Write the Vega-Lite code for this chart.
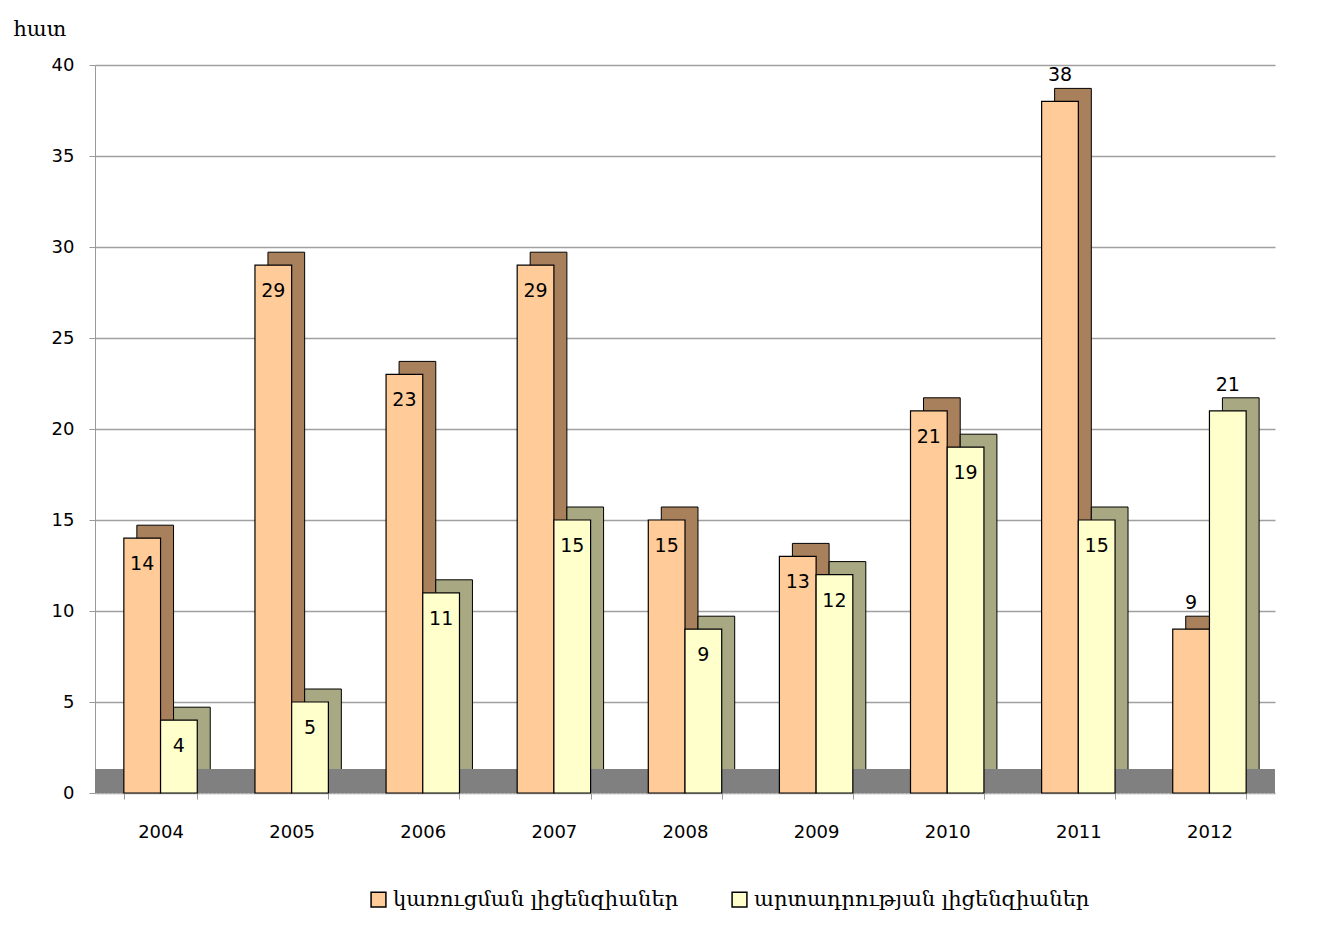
{
  "$schema": "https://vega.github.io/schema/vega-lite/v6.json",
  "autosize": {"type": "none"},
  "width": 1180,
  "height": 728,
  "padding": {"left": 95, "top": 65, "right": 55, "bottom": 143},
  "background": "white",
  "config": {
    "view": {"stroke": null},
    "axis": {"labelFont": "DejaVu Sans", "labelFontSize": 18, "labelColor": "black"}
  },
  "data": {
    "values": [
      {"year": "2004", "series": "կառուցման լիցենզիաներ", "v": 14},
      {"year": "2005", "series": "կառուցման լիցենզիաներ", "v": 29},
      {"year": "2006", "series": "կառուցման լիցենզիաներ", "v": 23},
      {"year": "2007", "series": "կառուցման լիցենզիաներ", "v": 29},
      {"year": "2008", "series": "կառուցման լիցենզիաներ", "v": 15},
      {"year": "2009", "series": "կառուցման լիցենզիաներ", "v": 13},
      {"year": "2010", "series": "կառուցման լիցենզիաներ", "v": 21},
      {"year": "2011", "series": "կառուցման լիցենզիաներ", "v": 38},
      {"year": "2012", "series": "կառուցման լիցենզիաներ", "v": 9},
      {"year": "2004", "series": "արտադրության լիցենզիաներ", "v": 4},
      {"year": "2005", "series": "արտադրության լիցենզիաներ", "v": 5},
      {"year": "2006", "series": "արտադրության լիցենզիաներ", "v": 11},
      {"year": "2007", "series": "արտադրության լիցենզիաներ", "v": 15},
      {"year": "2008", "series": "արտադրության լիցենզիաներ", "v": 9},
      {"year": "2009", "series": "արտադրության լիցենզիաներ", "v": 12},
      {"year": "2010", "series": "արտադրության լիցենզիաներ", "v": 19},
      {"year": "2011", "series": "արտադրության լիցենզիաներ", "v": 15},
      {"year": "2012", "series": "արտադրության լիցենզիաներ", "v": 21}
    ]
  },
  "encoding": {
    "x": {
      "field": "year", "type": "nominal",
      "scale": {"paddingInner": 0.44, "paddingOuter": 0.22},
      "axis": {
        "title": null, "labelAngle": 0, "tickBand": "extent",
        "labelPadding": 24, "tickSize": 6, "tickColor": "#999",
        "domainColor": "#bbb", "domainDash": [2, 2]
      }
    },
    "y": {
      "field": "v", "type": "quantitative",
      "scale": {"domain": [0, 40], "nice": false},
      "axis": {
        "values": [0, 5, 10, 15, 20, 25, 30, 35, 40],
        "title": "հատ", "titleAngle": 0, "titleFont": "DejaVu Serif",
        "titleFontSize": 21, "titleFontWeight": "normal", "titleAlign": "left",
        "titleBaseline": "middle", "titleX": -82, "titleY": -36,
        "grid": true, "gridColor": "#a0a0a0", "gridWidth": 1.5,
        "domainColor": "#999", "tickColor": "#999", "tickSize": 6,
        "labelPadding": 15
      }
    }
  },
  "resolve": {"scale": {"xOffset": "independent"}},
  "layer": [
    {
      "transform": [{"filter": "datum.series == 'կառուցման լիցենզիաներ'"}],
      "mark": {"type": "bar", "yOffset": -13, "stroke": "black", "strokeWidth": 1, "fill": "#A8805C"},
      "encoding": {
        "xOffset": {
          "field": "series", "type": "nominal",
          "scale": {"domain": ["կառուցման լիցենզիաներ", "արտադրության լիցենզիաներ"], "paddingInner": 0, "range": [13, 86.4]}
        }
      }
    },
    {
      "transform": [{"filter": "datum.series == 'արտադրության լիցենզիաներ'"}],
      "mark": {"type": "bar", "yOffset": -13, "stroke": "black", "strokeWidth": 1, "fill": "#A8A882"},
      "encoding": {
        "xOffset": {
          "field": "series", "type": "nominal",
          "scale": {"domain": ["կառուցման լիցենզիաներ", "արտադրության լիցենզիաներ"], "paddingInner": 0, "range": [13, 86.4]}
        }
      }
    },
    {
      "mark": {"type": "rect", "color": "#808080"},
      "encoding": {
        "x": null,
        "y": {"datum": 0, "type": "quantitative"},
        "y2": {"datum": 1.3}
      }
    },
    {
      "mark": {"type": "bar", "stroke": "black", "strokeWidth": 1.2},
      "encoding": {
        "xOffset": {
          "field": "series", "type": "nominal",
          "scale": {"domain": ["կառուցման լիցենզիաներ", "արտադրության լիցենզիաներ"], "paddingInner": 0}
        },
        "color": {
          "field": "series", "type": "nominal",
          "scale": {"domain": ["կառուցման լիցենզիաներ", "արտադրության լիցենզիաներ"], "range": ["#FFCC99", "#FFFFCC"]},
          "legend": {
            "title": null, "orient": "none", "direction": "horizontal",
            "legendX": 273, "legendY": 824,
            "symbolType": "square", "symbolSize": 220,
            "symbolStrokeColor": "black", "symbolStrokeWidth": 1.5,
            "labelFont": "DejaVu Serif", "labelFontSize": 21, "labelColor": "black",
            "labelLimit": 0, "columnPadding": 50, "labelOffset": 4
          }
        }
      }
    },
    {
      "transform": [{"filter": "!(datum.year == '2012' || (datum.year == '2011' && datum.v == 38))"}],
      "mark": {"type": "text", "font": "DejaVu Sans", "fontSize": 19, "baseline": "middle", "dy": 26, "color": "black"},
      "encoding": {
        "xOffset": {
          "field": "series", "type": "nominal",
          "scale": {"domain": ["կառուցման լիցենզիաներ", "արտադրության լիցենզիաներ"], "paddingInner": 0}
        },
        "text": {"field": "v", "type": "quantitative"}
      }
    },
    {
      "transform": [{"filter": "datum.year == '2012' || (datum.year == '2011' && datum.v == 38)"}],
      "mark": {"type": "text", "font": "DejaVu Sans", "fontSize": 19, "baseline": "middle", "dy": -26, "color": "black"},
      "encoding": {
        "xOffset": {
          "field": "series", "type": "nominal",
          "scale": {"domain": ["կառուցման լիցենզիաներ", "արտադրության լիցենզիաներ"], "paddingInner": 0}
        },
        "text": {"field": "v", "type": "quantitative"}
      }
    }
  ]
}
